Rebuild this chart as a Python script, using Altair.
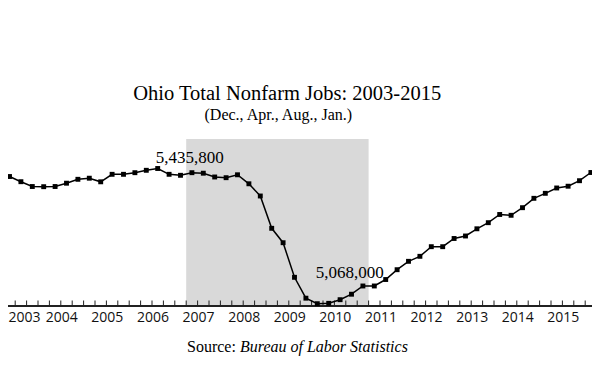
import altair as alt
import pandas as pd

# Ohio total nonfarm jobs, 4 readings per year (Dec., Apr., Aug., Jan.), 2003-2015
jobs = [5414000, 5399900, 5386800, 5386300, 5386800, 5395800, 5406400, 5409400,
        5399600, 5420000, 5420000, 5424400, 5430900, 5435800, 5420000, 5417300,
        5424400, 5423000, 5412700, 5410800, 5418700, 5394200, 5361000, 5273100,
        5233900, 5139800, 5083000, 5068000, 5069000, 5078900, 5093800, 5116200,
        5116200, 5133800, 5160500, 5183300, 5196900, 5223100, 5223100, 5245400,
        5252200, 5271800, 5288400, 5310700, 5308500, 5329200, 5354700, 5368300,
        5382800, 5387600, 5402600, 5424900]
years = list(range(2003, 2016))
shade_start = [2007.0]
shade_end = [2011.0]
peak_index = 13
trough_index = 27
title_text = "Ohio Total Nonfarm Jobs: 2003-2015"
subtitle_text = "(Dec., Apr., Aug., Jan.)"
source_lead = "Source:"
source_name = "Bureau of Labor Statistics"

df = pd.DataFrame({"i": list(range(len(jobs))), "jobs": jobs})
df["t"] = 2003.125 + 0.25 * df["i"]

ticks = pd.DataFrame({"b": [2003 + 0.25 * k for k in range(53)]})
yr = pd.DataFrame({"year": years})
shade = pd.DataFrame({"s": shade_start, "e": shade_end})

W, H = 584, 354
AXIS_Y = 298
SERIF = "Liberation Serif"

xs = alt.Scale(domain=[2003.0921, 2015.8991], nice=False, zero=False)
ys = alt.Scale(domain=[4909403, 5872424], nice=False, zero=False)
X = alt.X("t:Q", scale=xs, axis=None)
Y = alt.Y("jobs:Q", scale=ys, axis=None)

rect = alt.Chart(shade).mark_rect(color="#d9d9d9").encode(
    x=alt.X("s:Q", scale=xs, axis=None), x2="e:Q",
    y=alt.value(131), y2=alt.value(AXIS_Y))

tick_rules = alt.Chart(ticks).mark_rule(color="#222", strokeWidth=1).encode(
    x=alt.X("b:Q", scale=xs, axis=None),
    y=alt.value(AXIS_Y - 5.5), y2=alt.value(AXIS_Y))

axis_line = alt.Chart(ticks).mark_rule(color="#222", strokeWidth=1.5).encode(
    x=alt.value(0), x2=alt.value(W), y=alt.value(AXIS_Y))

year_labels = alt.Chart(yr).transform_calculate(
    lx="max(datum.year - 0.08, 2003.103)", lab="toString(datum.year)"
).mark_text(font="Open Sans", fontSize=14, align="left", baseline="alphabetic",
            color="#111").encode(
    x=alt.X("lx:Q", scale=xs, axis=None), y=alt.value(314), text="lab:N")

line = alt.Chart(df).mark_line(color="black", strokeWidth=1.5).encode(x=X, y=Y)
pts = alt.Chart(df).mark_square(color="black", size=24, opacity=1).encode(x=X, y=Y)

peak = alt.Chart(df).transform_filter(f"datum.i == {peak_index}").mark_text(
    font=SERIF, fontSize=17, align="left", baseline="alphabetic", dx=-2, dy=-5.5,
    color="black").encode(x=X, y=Y, text=alt.Text("jobs:Q", format=","))

trough = alt.Chart(df).transform_filter(f"datum.i == {trough_index}").mark_text(
    font=SERIF, fontSize=17, align="left", baseline="alphabetic", dx=-1.5, dy=-25.4,
    color="black").encode(x=X, y=Y, text=alt.Text("jobs:Q", format=","))

def label(txt, x, y, size, align="center", style="normal"):
    return alt.Chart(pd.DataFrame({"txt": [txt]})).mark_text(
        font=SERIF, fontSize=size, align=align, baseline="alphabetic",
        fontStyle=style, color="black").encode(
        x=alt.value(x), y=alt.value(y), text="txt:N")

title = label(title_text, 279.2, 92, 20.5)
subtitle = label(subtitle_text, 270.3, 112, 16)
src1 = label(source_lead, 179, 344, 16, align="left")
src2 = label(source_name, 232, 344, 16, align="left", style="italic")

chart = alt.layer(
    rect, tick_rules, axis_line, year_labels, line, pts, peak, trough,
    title, subtitle, src1, src2
).properties(
    width=W, height=H, autosize=alt.AutoSizeParams(type="none"), padding=0,
    background="white"
).configure_view(strokeWidth=0)

chart.save("out.html", embed_options={"renderer": "svg", "actions": False})
